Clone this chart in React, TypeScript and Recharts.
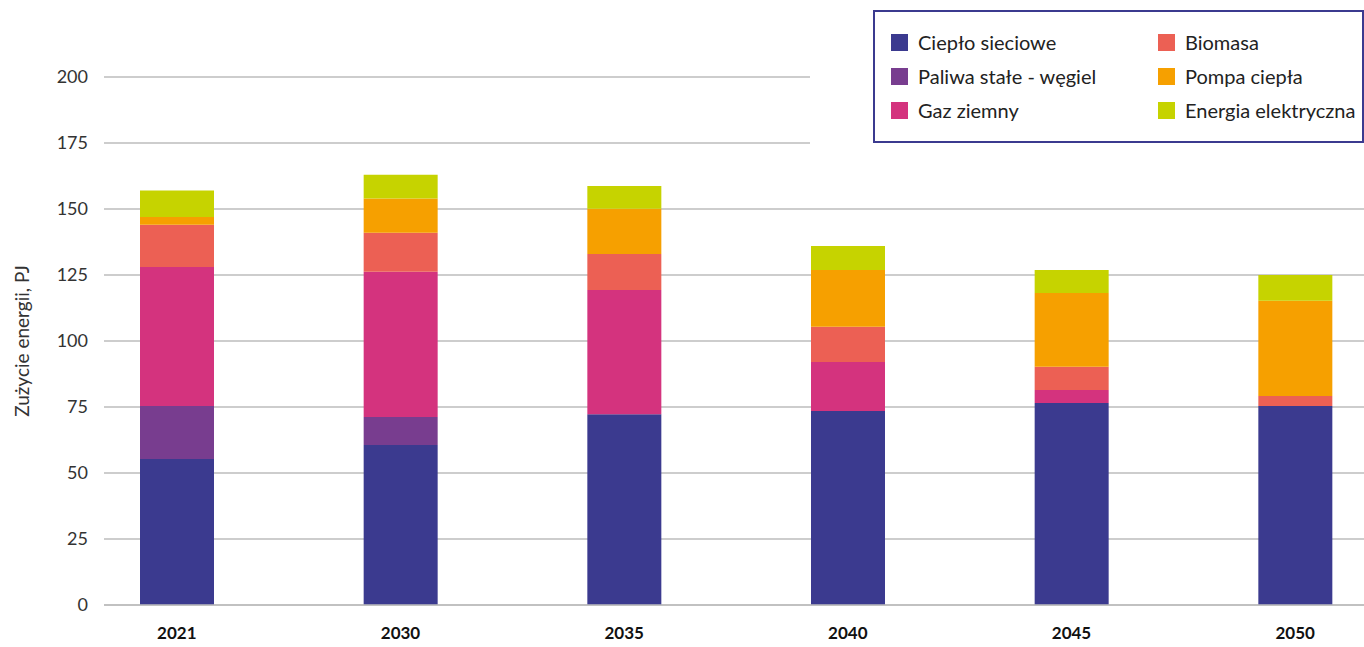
import { BarChart, Bar, XAxis, YAxis, CartesianGrid, Legend } from 'recharts';

// Years on the x axis
const years = ['2021', '2030', '2035', '2040', '2045', '2050'];

// Energy use per source, PJ
const cieploSieciowe = [55.3, 60.6, 72.3, 73.5, 76.5, 75.4];
const paliwaStale = [20.1, 10.6, 0, 0, 0, 0];
const gazZiemny = [52.6, 55.0, 47.0, 18.5, 4.9, 0];
const biomasa = [16.0, 14.8, 13.7, 13.4, 8.8, 3.8];
const pompaCiepla = [3.0, 13.0, 17.1, 21.5, 28.0, 36.0];
const energiaElektryczna = [10.0, 9.0, 8.6, 9.1, 8.7, 9.8];

const yTicks = [0, 25, 50, 75, 100, 125, 150, 175, 200];

const series = [
    { key: 'cieplo', name: 'Ciepło sieciowe', color: '#3b3a8f', values: cieploSieciowe },
    { key: 'paliwa', name: 'Paliwa stałe - węgiel', color: '#783d8f', values: paliwaStale },
    { key: 'gaz', name: 'Gaz ziemny', color: '#d4337e', values: gazZiemny },
    { key: 'biomasa', name: 'Biomasa', color: '#ec6054', values: biomasa },
    { key: 'pompa', name: 'Pompa ciepła', color: '#f6a000', values: pompaCiepla },
    { key: 'prad', name: 'Energia elektryczna', color: '#c6d300', values: energiaElektryczna },
];

const data = years.map((year, i) => {
    const row: Record<string, string | number> = { year };
    series.forEach((s) => {
        row[s.key] = s.values[i];
    });
    return row;
});

const FONT = 'Lato, "Open Sans", sans-serif';

// Legend box: two columns of three, white backing hides the top gridlines
const LegendBox = () => (
    <div
        style={{
            position: 'absolute',
            left: 810,
            top: 0,
            width: 554,
            height: 146,
            background: '#fff',
        }}
    >
        <div
            style={{
                position: 'absolute',
                left: 63,
                top: 10,
                width: 491,
                height: 133,
                boxSizing: 'border-box',
                border: '2.5px solid #3b3a8f',
                display: 'grid',
                gridTemplateRows: 'repeat(3, 34px)',
                gridTemplateColumns: '267px 220px',
                gridAutoFlow: 'column',
                paddingTop: 13,
                paddingLeft: 16,
                fontFamily: FONT,
                fontSize: 20,
                color: '#222',
            }}
        >
            {series.map((s) => (
                <div key={s.key} style={{ display: 'flex', alignItems: 'center', whiteSpace: 'nowrap' }}>
                    <span
                        style={{
                            display: 'inline-block',
                            width: 17,
                            height: 17,
                            background: s.color,
                            marginRight: 10,
                            flexShrink: 0,
                        }}
                    />
                    {s.name}
                </div>
            ))}
        </div>
    </div>
);

export default function App() {
    return (
        <div style={{ position: 'absolute', left: 0, top: 0, width: 1364, height: 647, background: '#fff' }}>
            <BarChart
                width={1364}
                height={647}
                data={data}
                margin={{ top: 77, right: 0, left: 0, bottom: 0 }}
                barSize={74}
            >
                <CartesianGrid vertical={false} stroke="#bdbdbd" strokeWidth={1.5} />
                <XAxis
                    dataKey="year"
                    height={42}
                    padding={{ left: -39, right: -43 }}
                    axisLine={{ stroke: '#bdbdbd', strokeWidth: 1.5 }}
                    tickLine={false}
                    tickMargin={16}
                    tick={{ fontSize: 17, fontWeight: 700, fill: '#111', fontFamily: FONT }}
                />
                <YAxis
                    domain={[0, 200]}
                    ticks={yTicks}
                    width={104}
                    axisLine={false}
                    tickLine={false}
                    tickMargin={10}
                    tick={{ fontSize: 18, fill: '#333', fontFamily: FONT }}
                    label={{
                        value: 'Zużycie energii, PJ',
                        angle: -90,
                        position: 'insideLeft',
                        offset: 22,
                        style: { textAnchor: 'middle', fontSize: 19, fill: '#333', fontFamily: FONT },
                    }}
                />
                <Legend content={() => null} />
                {series.map((s) => (
                    <Bar
                        key={s.key}
                        dataKey={s.key}
                        name={s.name}
                        stackId="a"
                        fill={s.color}
                        isAnimationActive={false}
                    />
                ))}
            </BarChart>
            <LegendBox />
        </div>
    );
}
